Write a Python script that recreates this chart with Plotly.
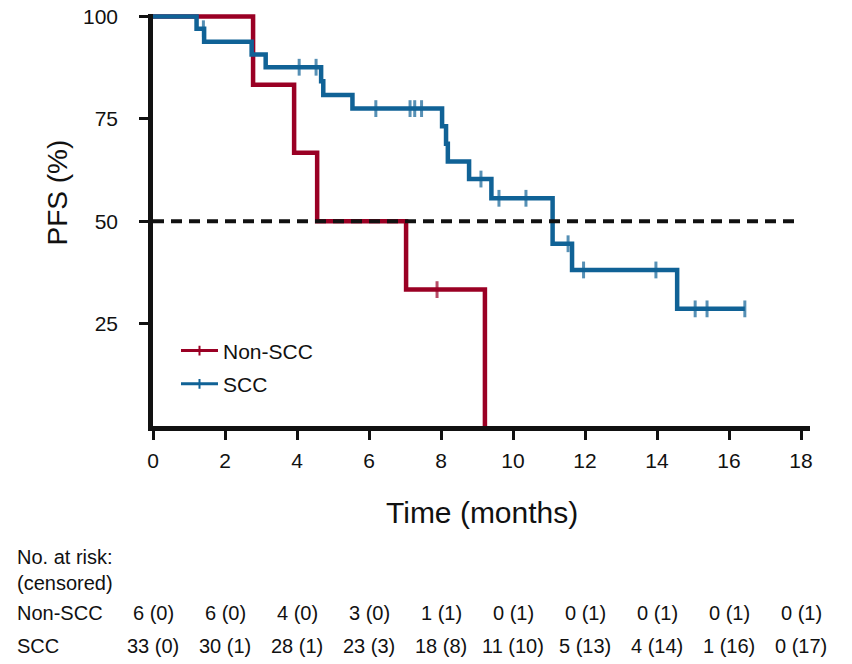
import plotly.graph_objects as go

# ---------------- data ----------------
NONSCC_TIME = [0, 2.78, 3.92, 4.56, 7.03, 7.89, 9.22]
NONSCC_PFS = [100, 83.3, 66.7, 50.0, 33.3, 33.3, 0]
NONSCC_CENSOR = [0, 0, 0, 0, 0, 1, 0]

SCC_TIME = [0, 1.21, 1.40, 1.42, 2.74, 3.13, 4.06, 4.53, 4.67, 4.73, 5.54,
            6.19, 7.14, 7.27, 7.46, 8.03, 8.14, 8.19, 8.78, 9.11, 9.40, 9.61,
            10.36, 11.10, 11.53, 11.64, 11.96, 13.97, 14.56, 15.06, 15.39, 16.44]
SCC_PFS = [100, 97.0, 97.0, 93.8, 90.7, 87.6, 87.6, 87.6, 84.2, 80.8, 77.5,
           77.5, 77.5, 77.5, 77.5, 73.2, 68.9, 64.6, 60.3, 60.3, 55.6, 55.6,
           55.6, 44.5, 44.5, 38.1, 38.1, 38.1, 28.6, 28.6, 28.6, 28.6]
SCC_CENSOR = [0, 0, 1, 0, 0, 0, 1, 1, 0, 0, 0,
              1, 1, 1, 1, 0, 0, 0, 0, 1, 0, 1,
              1, 0, 1, 0, 1, 1, 0, 1, 1, 1]

MEDIAN_LEVEL = 50
X_TICKS = [0, 2, 4, 6, 8, 10, 12, 14, 16, 18]
Y_TICKS = [25, 50, 75, 100]

RISK_TIMES = [0, 2, 4, 6, 8, 10, 12, 14, 16, 18]
NONSCC_AT_RISK = [6, 6, 4, 3, 1, 0, 0, 0, 0, 0]
NONSCC_CENS_CUM = [0, 0, 0, 0, 1, 1, 1, 1, 1, 1]
SCC_AT_RISK = [33, 30, 28, 23, 18, 11, 5, 4, 1, 0]
SCC_CENS_CUM = [0, 1, 1, 3, 8, 10, 13, 14, 16, 17]

# ---------------- style ----------------
RED = "#9A0024"
BLUE = "#106296"
INK = "#111111"
FONT = "Liberation Sans, Arial, Helvetica, sans-serif"

fig = go.Figure()


def add_group(name, t, s, c, color):
    sizes = [12 if f else 0 for f in c]
    fig.add_trace(go.Scatter(
        x=t, y=s, mode="lines+markers", name=name, showlegend=False,
        legendgroup=name,
        line=dict(color=color, width=4.5, shape="hv"),
        marker=dict(symbol="line-ns", size=sizes,
                    line=dict(color=color, width=3)),
        hoverinfo="skip",
    ))
    # legend entry
    fig.add_trace(go.Scatter(
        x=[None], y=[None], mode="lines+markers", name=name,
        legendgroup=name,
        line=dict(color=color, width=3),
        marker=dict(symbol="line-ns", size=7, line=dict(color=color, width=2)),
    ))


add_group("Non-SCC", NONSCC_TIME, NONSCC_PFS, NONSCC_CENSOR, RED)
add_group("SCC", SCC_TIME, SCC_PFS, SCC_CENSOR, BLUE)

# median reference line
fig.add_trace(go.Scatter(
    x=[X_TICKS[0], X_TICKS[-1]], y=[MEDIAN_LEVEL, MEDIAN_LEVEL], mode="lines",
    line=dict(color=INK, width=4, dash="11px,7px"), showlegend=False,
    hoverinfo="skip",
))

# ---------------- annotations ----------------
ann = []
ann.append(dict(text="PFS (%)", xref="paper", yref="paper", x=-0.146, y=0.567,
                xanchor="center", yanchor="middle", textangle=-90,
                showarrow=False, font=dict(size=28, color=INK, family=FONT)))
ann.append(dict(text="Time (months)", xref="paper", yref="paper", x=0.5, y=-0.209,
                xanchor="center", yanchor="middle", showarrow=False,
                font=dict(size=30, color=INK, family=FONT)))

lab_x = (15 - 153) / 657
rows = [("No. at risk:", -0.318), ("(censored)", -0.380)]
for txt, yy in rows:
    ann.append(dict(text=txt, xref="paper", yref="paper", x=lab_x, y=yy,
                    xanchor="left", yanchor="middle", showarrow=False,
                    font=dict(size=20, color=INK, family=FONT)))

for name, yy, n_arr, c_arr in [("Non-SCC", -0.454, NONSCC_AT_RISK, NONSCC_CENS_CUM),
                               ("SCC", -0.534, SCC_AT_RISK, SCC_CENS_CUM)]:
    ann.append(dict(text=name, xref="paper", yref="paper", x=lab_x, y=yy,
                    xanchor="left", yanchor="middle", showarrow=False,
                    font=dict(size=20, color=INK, family=FONT)))
    for t, n, c in zip(RISK_TIMES, n_arr, c_arr):
        ann.append(dict(text=f"{n} ({c})", xref="x", yref="paper", x=t, y=yy,
                        xanchor="center", yanchor="middle", showarrow=False,
                        font=dict(size=20, color=INK, family=FONT)))

fig.update_layout(
    width=852, height=664,
    margin=dict(l=153, r=42, t=14, b=238, autoexpand=False),
    paper_bgcolor="white", plot_bgcolor="white",
    font=dict(family=FONT, color=INK, size=21),
    annotations=ann,
    showlegend=True,
    legend=dict(x=0.035, y=0.232, xanchor="left", yanchor="top",
                bgcolor="rgba(0,0,0,0)", font=dict(size=21, family=FONT, color=INK),
                itemwidth=37, tracegroupgap=3, traceorder="grouped"),
    xaxis=dict(range=[0, 18.25], tickvals=X_TICKS, showgrid=False, zeroline=False,
               showline=True, linewidth=4.5, linecolor=INK, ticks="outside",
               ticklen=9, tickwidth=2.5, tickcolor=INK, ticklabelstandoff=3,
               automargin=False, tickfont=dict(size=21, family=FONT, color=INK)),
    yaxis=dict(range=[0, 100.6], tickvals=Y_TICKS, showgrid=False, zeroline=False,
               showline=True, linewidth=4.5, linecolor=INK, ticks="outside",
               ticklen=9, tickwidth=2.5, tickcolor=INK, ticklabelstandoff=17,
               automargin=False, tickfont=dict(size=21, family=FONT, color=INK)),
)

fig.write_html("out.html", config={"displayModeBar": False},
               post_script="document.body.style.margin='0';")
